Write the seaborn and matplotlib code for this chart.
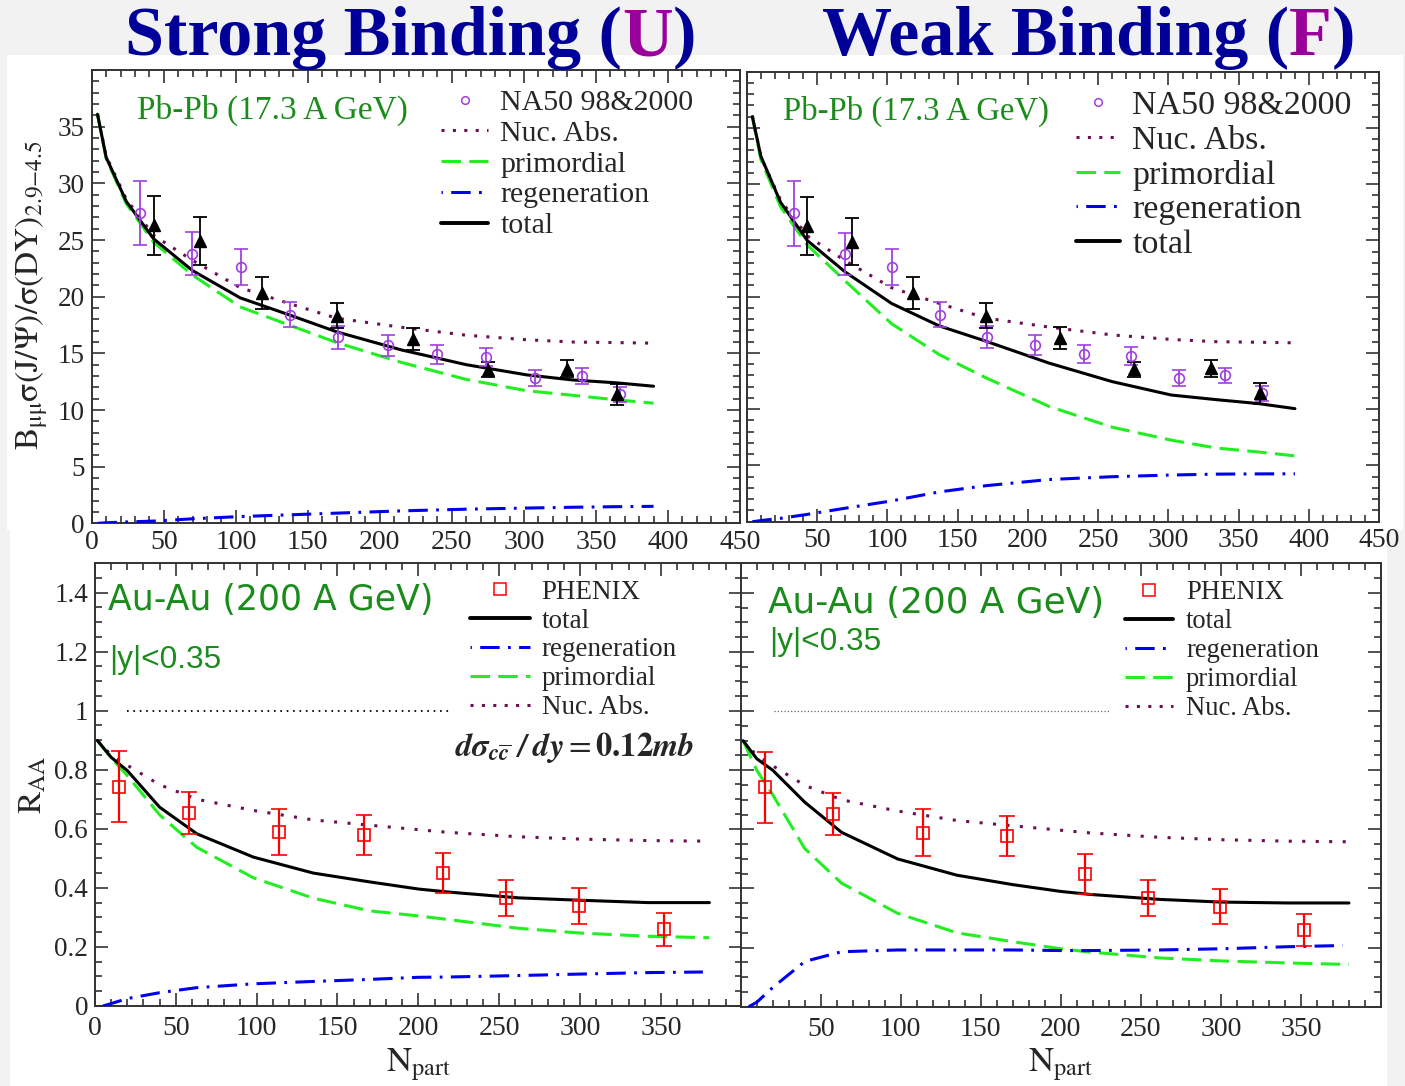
import matplotlib
matplotlib.use("Agg")
import matplotlib.pyplot as plt
import seaborn as sns
from matplotlib.lines import Line2D
from matplotlib.patches import Rectangle
from matplotlib.ticker import MultipleLocator

sns.set_style("ticks")
plt.rcParams["font.family"] = ["Liberation Serif", "DejaVu Serif"]
plt.rcParams["mathtext.fontset"] = "stix"
plt.rcParams["lines.scale_dashes"] = False

# ---------------- Pb-Pb (17.3 A GeV), SPS ----------------
na50_npart = [33.8, 69.7, 103.5, 137.5, 171.0, 205.3, 239.8, 273.6, 307.6, 340.5, 366.7]
na50_ratio = [27.4, 23.8, 22.6, 18.4, 16.4, 15.7, 14.9, 14.7, 12.8, 13.0, 11.4]
na50_err = [2.85, 1.9, 1.6, 1.1, 1.0, 0.9, 0.8, 0.8, 0.7, 0.7, 0.65]

na50_tri_npart = [43.1, 75.0, 118.5, 170.0, 222.7, 275.2, 330.0, 364.8]
na50_tri_ratio = [26.3, 24.9, 20.35, 18.3, 16.3, 13.55, 13.65, 11.4]
na50_tri_err = [2.6, 2.1, 1.4, 1.1, 0.98, 0.65, 0.75, 0.93]

sps_npart = [4, 10, 24, 43, 70, 103, 137, 170, 215, 260, 302, 334, 364, 390]
sps_nuc_abs = [36.1, 32.4, 28.6, 25.4, 23.2, 20.8, 19.4, 18.1, 17.3, 16.6, 16.2, 16.0, 15.95, 15.9]
# strong binding (U)
sps_total_U = [36.1, 32.3, 28.4, 25.1, 22.3, 19.9, 18.4, 16.9, 15.3, 14.0, 13.1, 12.65, 12.4, 12.1]
sps_prim_U = [36.1, 32.2, 28.2, 24.8, 21.9, 19.1, 17.5, 15.95, 14.2, 12.7, 11.7, 11.3, 10.9, 10.6]
sps_regen_U = [0.0, 0.05, 0.12, 0.2, 0.4, 0.6, 0.75, 0.9, 1.1, 1.25, 1.35, 1.42, 1.47, 1.5]
# weak binding (F)
sps_total_F = [36.0, 32.5, 28.4, 25.0, 22.2, 19.4, 17.4, 16.05, 14.1, 12.45, 11.26, 10.85, 10.5, 10.05]
sps_prim_F = [36.0, 32.2, 28.0, 24.6, 21.4, 17.6, 14.85, 12.8, 10.25, 8.4, 7.25, 6.55, 6.2, 5.85]
sps_regen_F = [0.0, 0.1, 0.3, 0.65, 1.2, 1.85, 2.65, 3.2, 3.75, 4.0, 4.15, 4.23, 4.25, 4.26]

# ---------------- Au-Au (200 A GeV), RHIC ----------------
phenix_npart = [14.9, 57.9, 114.1, 166.4, 215.4, 254.3, 299.4, 352.2]
phenix_raa = [0.742, 0.652, 0.589, 0.578, 0.449, 0.367, 0.339, 0.259]
phenix_err = [0.12, 0.071, 0.079, 0.068, 0.068, 0.061, 0.06, 0.055]

rhic_npart = [1.5, 10, 20, 40, 63, 98, 135, 170, 200, 218, 262, 300, 342, 380]
rhic_nuc_abs = [0.899, 0.85, 0.815, 0.749, 0.70, 0.662, 0.63, 0.612, 0.597, 0.588, 0.573, 0.565, 0.56, 0.558]
rhic_total_U = [0.899, 0.842, 0.797, 0.673, 0.583, 0.504, 0.450, 0.420, 0.396, 0.386, 0.366, 0.358, 0.350, 0.350]
rhic_prim_U = [0.899, 0.84, 0.78, 0.647, 0.537, 0.434, 0.365, 0.322, 0.305, 0.293, 0.263, 0.247, 0.236, 0.231]
rhic_regen_npart = [5, 10, 20, 40, 63, 98, 135, 170, 200, 218, 262, 300, 342, 376]
rhic_regen_U = [0.0, 0.008, 0.025, 0.045, 0.062, 0.075, 0.083, 0.09, 0.097, 0.098, 0.103, 0.108, 0.113, 0.115]
rhic_total_F = [0.90, 0.839, 0.80, 0.692, 0.59, 0.50, 0.445, 0.413, 0.39, 0.38, 0.363, 0.354, 0.351, 0.351]
rhic_prim_F = [0.90, 0.80, 0.717, 0.535, 0.418, 0.316, 0.25, 0.22, 0.196, 0.185, 0.165, 0.155, 0.148, 0.143]
rhic_regen_F = [0.0, 0.015, 0.065, 0.153, 0.186, 0.192, 0.192, 0.192, 0.19, 0.19, 0.192, 0.196, 0.203, 0.207]

# R_AA = 1 reference segments
ref_x_U = [20, 220]
ref_x_F = [21, 231]
ref_y = [1.0, 1.0]

# ---------------- styles ----------------
C_TOTAL = "black"
C_PRIM = "#22ee22"
C_REGEN = "#0000ee"
C_NUC = "#6a1050"
C_NA50 = "#a040e0"
C_PHENIX = "#ff0000"
C_GREEN_TXT = "#1b8c1b"
LS_PRIM = (0, (14, 6))
LS_REGEN = (0, (14, 6, 2, 6))
LS_NUC = (0, (2.2, 6.6))
LW = 2.2

fig = plt.figure(figsize=(14.05, 10.86), dpi=100, facecolor="#f2f2f2")
fig.patches.append(Rectangle((0.005, 0.512), 0.9936, 0.4374, transform=fig.transFigure,
                             facecolor="white", edgecolor="none", zorder=-10))
fig.patches.append(Rectangle((0.0071, 0.0), 0.980, 0.513, transform=fig.transFigure,
                             facecolor="white", edgecolor="none", zorder=-10))

ax_tl = fig.add_axes([0.0653, 0.5181, 0.4614, 0.4174])
ax_tr = fig.add_axes([0.5315, 0.5196, 0.4502, 0.4144])
ax_bl = fig.add_axes([0.0676, 0.0737, 0.4603, 0.4079])
ax_br = fig.add_axes([0.5272, 0.0730, 0.4557, 0.4083])


def style_axes(ax, xmax, ymax, xmajor, xminor, ymajor, yminor, xlabels, ylabels, xpad):
    ax.set_xlim(0, xmax)
    ax.set_ylim(0, ymax)
    ax.set_facecolor("white")
    for sp in ax.spines.values():
        sp.set_visible(True)
        sp.set_color("#333333")
        sp.set_linewidth(1.4)
    ax.set_xticks(xmajor, xlabels)
    ax.set_yticks(ymajor, ylabels)
    ax.xaxis.set_minor_locator(MultipleLocator(xminor))
    ax.yaxis.set_minor_locator(MultipleLocator(yminor))
    ax.tick_params(which="both", direction="in", top=True, right=True,
                   color="#333333", width=1.2)
    ax.tick_params(which="major", length=9.5)
    ax.tick_params(which="minor", length=5)
    ax.tick_params(axis="x", pad=xpad, labelsize=20)
    ax.tick_params(axis="y", pad=5, labelsize=19.5)
    ax.grid(False)


def draw_curve(ax, x, y, color, ls, z=3):
    sns.lineplot(x=x, y=y, ax=ax, color=color, linestyle=ls, linewidth=LW,
                 sort=False, estimator=None, legend=False, zorder=z)


sps_x = list(range(0, 451, 50))
sps_y = list(range(0, 36, 5))
style_axes(ax_tl, 450, 40, sps_x, 10, sps_y, 1,
           [str(v) for v in sps_x], [str(v) for v in sps_y], 4.5)
style_axes(ax_tr, 450, 40, sps_x, 10, sps_y, 1,
           [""] + [str(v) for v in sps_x[1:]], [""] * len(sps_y), 4.5)

rhic_x = list(range(0, 401, 50))
rhic_y = [0, 0.2, 0.4, 0.6, 0.8, 1.0, 1.2, 1.4]
rhic_ylab = ["0", "0.2", "0.4", "0.6", "0.8", "1", "1.2", "1.4"]
style_axes(ax_bl, 400, 1.5, rhic_x, 10, rhic_y, 0.05,
           [str(v) for v in rhic_x[:-1]] + [""], rhic_ylab, 7.5)
style_axes(ax_br, 400, 1.5, rhic_x, 10, rhic_y, 0.05,
           [""] + [str(v) for v in rhic_x[1:-1]] + [""], [""] * len(rhic_y), 7.5)

# ---- SPS panels ----
for ax, tot, prim, reg in [(ax_tl, sps_total_U, sps_prim_U, sps_regen_U),
                           (ax_tr, sps_total_F, sps_prim_F, sps_regen_F)]:
    draw_curve(ax, sps_npart, sps_nuc_abs, C_NUC, LS_NUC)
    draw_curve(ax, sps_npart, prim, C_PRIM, LS_PRIM)
    draw_curve(ax, sps_npart, reg, C_REGEN, LS_REGEN)
    draw_curve(ax, sps_npart, tot, C_TOTAL, "-", z=4)
    ax.errorbar(na50_npart, na50_ratio, yerr=na50_err, fmt="o", ms=7, mfc="none",
                mec=C_NA50, mew=1.2, ecolor=C_NA50, elinewidth=1.3, capsize=5,
                capthick=1.3, zorder=6)
    ax.errorbar(na50_tri_npart, na50_tri_ratio, yerr=na50_tri_err, fmt="^", ms=8,
                color="black", ecolor="black", elinewidth=1.3, capsize=5,
                capthick=1.3, zorder=6)

# ---- RHIC panels ----
for ax, tot, prim, reg, refx, refc, refls, reflw in [
        (ax_bl, rhic_total_U, rhic_prim_U, rhic_regen_U, ref_x_U, "black", (0, (1.2, 3.4)), 1.3),
        (ax_br, rhic_total_F, rhic_prim_F, rhic_regen_F, ref_x_F, "#555555", (0, (0.8, 1.6)), 0.9)]:
    sns.lineplot(x=refx, y=ref_y, ax=ax, color=refc, linestyle=refls,
                 linewidth=reflw, estimator=None, legend=False, zorder=2)
    draw_curve(ax, rhic_npart, rhic_nuc_abs, C_NUC, (0, (2.2, 7.5)))
    draw_curve(ax, rhic_npart, prim, C_PRIM, LS_PRIM)
    draw_curve(ax, rhic_regen_npart, reg, C_REGEN, LS_REGEN)
    draw_curve(ax, rhic_npart, tot, C_TOTAL, "-", z=4)
    ax.errorbar(phenix_npart, phenix_raa, yerr=phenix_err, fmt="s", ms=8.5, mfc="none",
                mec=C_PHENIX, mew=1.2, ecolor=C_PHENIX, elinewidth=1.6, capsize=6,
                capthick=1.6, zorder=6)

# ---- legends ----
h_na50 = Line2D([], [], ls="none", marker="o", ms=5.5, mfc="none", mec=C_NA50, mew=1.1)
h_phenix = Line2D([], [], ls="none", marker="s", ms=8, mfc="none", mec=C_PHENIX, mew=1.1)
h_nuc = Line2D([], [], color=C_NUC, ls=(0, (2.2, 6.0)), lw=LW)
h_prim = Line2D([], [], color=C_PRIM, ls=(0, (14, 6)), lw=LW)
h_regen = Line2D([], [], color=C_REGEN, ls=(1, (2, 6, 14, 6)), lw=LW)
h_total = Line2D([], [], color=C_TOTAL, ls="-", lw=LW + 0.6)

sps_handles = [h_na50, h_nuc, h_prim, h_regen, h_total]
sps_labels = ["NA50 98&2000", "Nuc. Abs.", "primordial", "regeneration", "total"]
rhic_handles = [h_phenix, h_total, h_regen, h_prim, h_nuc]
rhic_labels = ["PHENIX", "total", "regeneration", "primordial", "Nuc. Abs."]

ax_tl.legend(sps_handles, sps_labels, loc="upper left", bbox_to_anchor=(0.539, 0.958),
             frameon=False, borderpad=0, borderaxespad=0, handlelength=1.58,
             handletextpad=0.4, labelspacing=0.13, prop={"size": 21.5})
ax_tr.legend(sps_handles, sps_labels, loc="upper left", bbox_to_anchor=(0.5206, 0.958),
             frameon=False, borderpad=0, borderaxespad=0, handlelength=1.3,
             handletextpad=0.35, labelspacing=0.11, prop={"size": 24.5})
ax_bl.legend(rhic_handles, rhic_labels, loc="upper left", bbox_to_anchor=(0.58, 0.962),
             frameon=False, borderpad=0, borderaxespad=0, handlelength=2.2,
             handletextpad=0.44, labelspacing=0.14, prop={"size": 19.5})
ax_br.legend(rhic_handles, rhic_labels, loc="upper left", bbox_to_anchor=(0.600, 0.962),
             frameon=False, borderpad=0, borderaxespad=0, handlelength=1.8,
             handletextpad=0.49, labelspacing=0.15, prop={"size": 19.2})

# ---- panel annotations ----
ax_tl.text(0.0699, 0.8935, "Pb-Pb (17.3 A GeV)", transform=ax_tl.transAxes,
           color=C_GREEN_TXT, fontsize=24, ha="left", va="baseline")
ax_tr.text(0.0579, 0.894, "Pb-Pb (17.3 A GeV)", transform=ax_tr.transAxes,
           color=C_GREEN_TXT, fontsize=23.6, ha="left", va="baseline")
for ax, xa, y1, y2, fs in [(ax_bl, 0.0206, 0.894, 0.762, 25),
                           (ax_br, 0.0431, 0.887, 0.8045, 25.8)]:
    ax.text(xa, y1, "Au-Au (200 A GeV)", transform=ax.transAxes, color=C_GREEN_TXT,
            fontsize=fs, ha="left", va="baseline", family="DejaVu Sans")
    ax.text(xa + 0.002, y2, "|y|<0.35", transform=ax.transAxes, color=C_GREEN_TXT,
            fontsize=22.7, ha="left", va="baseline", family="Liberation Sans")

ax_bl.text(0.742, 0.565,
           r"$\mathbfit{d\sigma}_{\mathbfit{c}\overline{\mathbfit{c}}}\;\mathbfit{/}\;\mathbfit{dy} = \mathbf{0.12}\mathbfit{mb}$",
           transform=ax_bl.transAxes, fontsize=23.5, ha="center", va="baseline")

# ---- axis titles ----
ax_tl.set_ylabel(r"$\mathrm{B}_{\mathrm{\mu\mu}}\mathrm{\sigma(J/\Psi)/\sigma(DY)}_{2.9\mathrm{-}4.5}$",
                 fontsize=24, va="center")
ax_tl.yaxis.set_label_coords(-0.092, 0.504)
ax_bl.set_ylabel(r"$\mathrm{R}_{\mathrm{AA}}$", fontsize=24, va="center")
ax_bl.yaxis.set_label_coords(-0.096, 0.499)
for ax in (ax_bl, ax_br):
    ax.set_xlabel(r"$\mathrm{N}_{\mathrm{part}}$", fontsize=25, va="center")
    ax.xaxis.set_label_coords(0.5, -0.132)
for ax in (ax_tr, ax_br):
    ax.set_ylabel("")
ax_tl.set_xlabel("")
ax_tr.set_xlabel("")

# ---- figure titles ----
TITLE_BLUE = "#000099"
TITLE_PURPLE = "#990099"
for x0, head, key in [(0.089, "Strong Binding (", "U"), (0.585, "Weak Binding (", "F")]:
    t1 = fig.text(x0, 0.949, head, color=TITLE_BLUE, fontsize=50.5, fontweight="bold",
                  ha="left", va="baseline")
    a2 = ax_tl.annotate(key, xy=(1, 0), xycoords=t1, ha="left", va="bottom",
                        color=TITLE_PURPLE, fontsize=50.5, fontweight="bold",
                        annotation_clip=False)
    ax_tl.annotate(")", xy=(1, 0), xycoords=a2, ha="left", va="bottom",
                   color=TITLE_BLUE, fontsize=50.5, fontweight="bold",
                   annotation_clip=False)

fig.savefig("out.png", dpi=100, facecolor=fig.get_facecolor())
